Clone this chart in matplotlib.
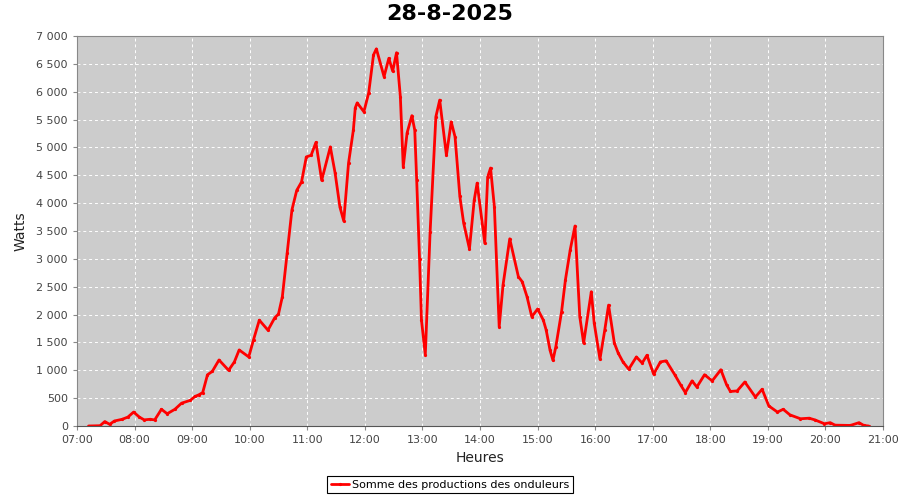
import numpy as np
import matplotlib.pyplot as plt
from matplotlib.ticker import FuncFormatter

# production readings (time of day, watts)
times = ["07:12", "07:24", "07:29", "07:34", "07:39", "07:47", "07:53", "07:59",
         "08:05", "08:10", "08:16", "08:21", "08:28", "08:34", "08:42", "08:49",
         "08:58", "09:03", "09:07", "09:11", "09:16", "09:21", "09:28", "09:38",
         "09:44", "09:49", "09:59", "10:04", "10:10", "10:19", "10:26", "10:30",
         "10:34", "10:39", "10:44", "10:49", "10:54", "10:59", "11:04", "11:09",
         "11:15", "11:24", "11:29", "11:34", "11:38", "11:43", "11:48", "11:50",
         "11:52", "11:59", "12:04", "12:09", "12:12", "12:20", "12:25", "12:29",
         "12:33", "12:37", "12:40", "12:44", "12:49", "12:52", "12:54", "12:57",
         "12:59", "13:03", "13:08", "13:14", "13:18", "13:25", "13:30", "13:34",
         "13:39", "13:43", "13:49", "13:54", "13:57", "14:05", "14:08", "14:11",
         "14:15", "14:20", "14:24", "14:31", "14:40", "14:44", "14:49", "14:54",
         "15:00", "15:06", "15:09", "15:13", "15:16", "15:19", "15:25", "15:29",
         "15:34", "15:39", "15:44", "15:48", "15:56", "15:59", "16:05", "16:10",
         "16:14", "16:20", "16:24", "16:29", "16:35", "16:43", "16:49", "16:54",
         "17:01", "17:08", "17:14", "17:23", "17:29", "17:34", "17:41", "17:46",
         "17:54", "18:02", "18:11", "18:17", "18:21", "18:28", "18:36", "18:47",
         "18:54", "19:01", "19:10", "19:16", "19:23", "19:34", "19:43", "19:49",
         "19:59", "20:05", "20:10", "20:26", "20:35", "20:40", "20:45"]
watts = [0, 5, 80, 30, 90, 120, 160, 250,
         160, 110, 120, 110, 300, 220, 300, 410,
         460, 530, 560, 600, 920, 980, 1185, 1000,
         1150, 1365, 1240, 1550, 1900, 1720, 1940, 2010,
         2320, 3100, 3880, 4230, 4380, 4830, 4860, 5090,
         4410, 5010, 4540, 3930, 3680, 4720, 5310, 5710,
         5800, 5640, 5980, 6660, 6770, 6270, 6600, 6370,
         6700, 5910, 4650, 5260, 5570, 5310, 4420, 3000,
         1900, 1280, 3480, 5550, 5850, 4860, 5460, 5190,
         4120, 3640, 3180, 4060, 4360, 3280, 4470, 4630,
         3930, 1780, 2530, 3360, 2680, 2590, 2320, 1960,
         2100, 1900, 1720, 1360, 1180, 1420, 2050, 2620,
         3160, 3590, 1960, 1490, 2410, 1850, 1200, 1720,
         2170, 1490, 1310, 1150, 1020, 1240, 1130, 1270,
         930, 1150, 1170, 920, 740, 600, 810, 700,
         920, 810, 1010, 740, 620, 630, 790, 520,
         660, 360, 250, 300, 200, 130, 140, 110,
         40, 60, 15, 10, 60, 10, 0]

hour_ticks = list(range(7, 22))
hour_labels = ["%02d:00" % h for h in hour_ticks]
watt_ticks = list(range(0, 7001, 500))

hours = np.array([int(t[:2]) + int(t[3:]) / 60.0 for t in times])

fig = plt.figure(figsize=(9, 5), dpi=100)
ax = fig.add_axes([77/900, 1-426/500, (883-77)/900, (426-36)/500])
ax.set_facecolor('#cccccc')

ax.plot(hours, watts, '-', color='red', linewidth=2, marker='o', markersize=1.3,
        solid_joinstyle='round', solid_capstyle='round',
        label='Somme des productions des onduleurs')

ax.set_xlim(7, 21)
ax.set_ylim(0, 7000)
ax.set_xticks(hour_ticks)
ax.set_xticklabels(hour_labels)
ax.set_yticks(watt_ticks)
ax.yaxis.set_major_formatter(FuncFormatter(lambda v, p: f"{int(v):,}".replace(",", " ")))
ax.grid(color='white', linestyle=(0, (3, 3)), linewidth=0.7)
ax.tick_params(colors='#888888', labelcolor='#444444', labelsize=8, length=3, width=0.8)
for s in ax.spines.values():
    s.set_color('#888888')
ax.spines['bottom'].set_color('#555555')

ax.set_xlabel('Heures', fontsize=10, color='#222222', labelpad=4)
ax.set_ylabel('Watts', fontsize=10, color='#222222', labelpad=6)
fig.text(0.5, 1-14/500, '28-8-2025', ha='center', va='center', fontsize=16, fontweight='bold')

leg = fig.legend(loc='lower center', bbox_to_anchor=(0.5, 0.002), fontsize=8,
                 fancybox=False, framealpha=1, edgecolor='black', borderpad=0.35,
                 handlelength=1.6, handletextpad=0.3)
leg.get_frame().set_linewidth(0.8)

plt.savefig('out.png')
